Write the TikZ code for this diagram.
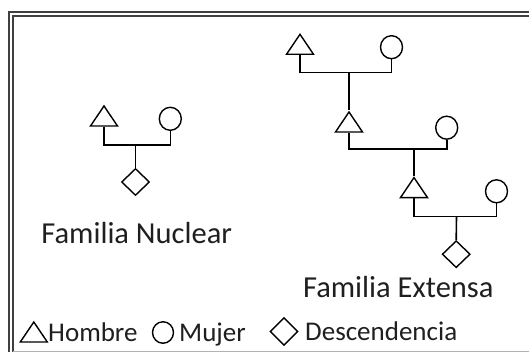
\documentclass[tikz,border=0pt]{standalone}
\usepackage{fontspec}
\setmainfont{Carlito}
\usetikzlibrary{shapes.geometric}
\begin{document}
\begin{tikzpicture}[x=1pt,y=-1pt,
  male/.style={draw, line width=1.4pt, isosceles triangle, isosceles triangle stretches,
    shape border rotate=90, minimum width=27pt, minimum height=20pt, inner sep=0pt},
  female/.style={draw, line width=1.4pt, ellipse, minimum width=22pt, minimum height=23pt, inner sep=0pt},
  child/.style={draw, line width=1.4pt, diamond, minimum width=28pt, minimum height=27pt, inner sep=0pt},
  link/.style={line width=1.6pt},
  lbl/.style={font=\fontsize{30.5}{32}\selectfont, text=black!88, anchor=base, inner sep=0pt},
  leg/.style={font=\fontsize{27}{29}\selectfont, text=black!88, anchor=base west, inner sep=0pt},
  frame/.style={line width=2pt, draw=black!75}]
\useasboundingbox (0,0) rectangle (529,352);
% frame
\draw[frame] (9,352) -- (9,12) -- (529,12);
\draw[frame] (13,352) -- (13,16) -- (529,16);
\draw[line width=1pt, draw=black!30] (13,351) -- (529,351);
% nuclear family
\node[male, anchor=lower side] (t1) at (104,126.7) {};
\node[female] (c1) at (170.3,118.8) {};
\coordinate (m1) at (135.5,145);
\node[child] (d1) at (135.5,182) {};
\draw[link] (t1.lower side) |- (m1) -| (c1.south);
\draw[link] (m1) -- (d1.north);
\node[lbl] (n1) at (136.7,243.3) {Familia Nuclear};
% extended family
\node[male, anchor=lower side] (t2) at (300,55) {};
\node[female] (c2) at (391.5,47.2) {};
\coordinate (m2) at (349,72.7);
\node[male, anchor=lower side] (t3) at (349,132.7) {};
\node[female] (c3) at (446.7,127.7) {};
\coordinate (m3) at (414,149);
\node[male, anchor=lower side] (t4) at (414,198.3) {};
\node[female] (c4) at (496.5,191.3) {};
\coordinate (m4) at (456.5,216.7);
\node[child] (d2) at (456.2,254.2) {};
\draw[link] (t2.lower side) |- (m2) -| (c2.south);
\draw[link] (m2) -- (t3.apex);
\draw[link] (t3.lower side) |- (m3) -| (c3.south);
\draw[link] (m3) -- (t4.apex);
\draw[link] (t4.lower side) |- (m4) -| (c4.south);
\draw[link] (m4) -- (d2.north);
\node[lbl] (n2) at (398.3,297.3) {Familia Extensa};
% legend
\node[male, anchor=lower side] (lt) at (33.8,342.7) {};
\node[leg] (lh) at (48,341) {Hombre};
\node[female, minimum width=21pt, minimum height=21.5pt] (lc) at (163,332.5) {};
\node[leg] (lm) at (179,341) {Mujer};
\node[child, minimum height=28pt] (ld) at (284,331.5) {};
\node[leg] (lds) at (305,340.7) {Descendencia};
\end{tikzpicture}
\end{document}
